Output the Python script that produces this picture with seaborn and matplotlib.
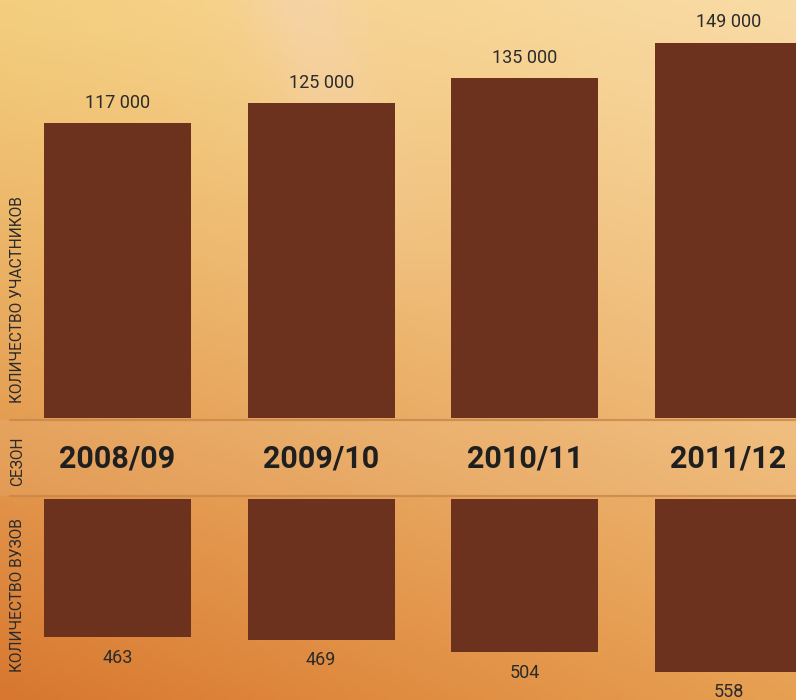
import numpy as np
import matplotlib
matplotlib.use("Agg")
import matplotlib.pyplot as plt
from matplotlib.colors import to_rgb
from matplotlib.lines import Line2D
from matplotlib.patches import Rectangle
from matplotlib.transforms import blended_transform_factory
import seaborn as sns

# Data
seasons = ["2008/09", "2009/10", "2010/11", "2011/12"]
participants = [117000, 125000, 135000, 149000]
universities = [463, 469, 504, 558]

label_participants = "КОЛИЧЕСТВО УЧАСТНИКОВ"
label_season = "СЕЗОН"
label_universities = "КОЛИЧЕСТВО ВУЗОВ"

sns.set_theme(style="white")
plt.rcParams["font.family"] = ["Roboto", "Liberation Sans", "DejaVu Sans"]

BAR = "#6d321d"
TEXT = "#2b2b2b"

W, H = 796, 700
fig = plt.figure(figsize=(W / 100, H / 100), dpi=100)

# Warm gradient backdrop
bg = fig.add_axes([0, 0, 1, 1], zorder=-10)
bg.set_axis_off()
ny, nx = 140, 160
yy, xx = np.mgrid[0:1:ny * 1j, 0:1:nx * 1j]
tl, tr = np.array(to_rgb("#f4ce7e")), np.array(to_rgb("#f9dba6"))
bl, br = np.array(to_rgb("#d8772f")), np.array(to_rgb("#e7a052"))
t = yy[..., None] ** 1.15
xw = xx[..., None]
top = tl * (1 - xw) + tr * xw
bot = bl * (1 - xw) + br * xw
img = top * (1 - t) + bot * t
# soft pinkish sheen across the upper middle
sheen = np.exp(-((xx - 0.38 - 0.25 * yy) / 0.07) ** 2) * np.clip(1 - yy / 0.45, 0, 1)
img = img + sheen[..., None] * (np.array(to_rgb("#f6d3b6")) - img) * 0.55
bg.imshow(np.clip(img, 0, 1), extent=[0, 1, 0, 1], origin="upper", aspect="auto")
bg.set_xlim(0, 1)
bg.set_ylim(0, 1)

# Upper panel: participants
x_lo, x_hi = -117.5 / 203.67, (W - 117.5) / 203.67
base_top = 417.7
ax_top = fig.add_axes([0, 1 - base_top / H, 1, base_top / H])
ax_top.patch.set_alpha(0)
sns.barplot(x=seasons, y=participants, ax=ax_top, color=BAR, saturation=1,
            width=0.722, linewidth=0)
ax_top.set_xlim(x_lo, x_hi)
ax_top.set_ylim(0, base_top / 2.515 * 1000)
ax_top.set_axis_off()
for i, v in enumerate(participants):
    ax_top.annotate(f"{v:,}".replace(",", " "), (i, v), xytext=(0, 14.8),
                    textcoords="offset points", ha="center", va="center",
                    fontsize=13, color=TEXT)

# Lower panel: universities, hanging down
top_low = 499
ax_bot = fig.add_axes([0, 0, 1, (H - top_low) / H])
ax_bot.patch.set_alpha(0)
sns.barplot(x=seasons, y=universities, ax=ax_bot, color=BAR, saturation=1,
            width=0.722, linewidth=0)
ax_bot.set_xlim(x_lo, x_hi)
v0, scale = 83.6, 0.365
ax_bot.set_ylim(v0 + (H - top_low) / scale, v0)
ax_bot.set_axis_off()
for i, v in enumerate(universities):
    ax_bot.annotate(str(v), (i, v), xytext=(0, -14.6),
                    textcoords="offset points", ha="center", va="center",
                    fontsize=13, color=TEXT)

# Season band
fig.add_artist(Rectangle((0, 1 - 496 / H), 1, 76 / H, transform=fig.transFigure,
                         facecolor="white", alpha=0.07, edgecolor="none", zorder=-5))
for yp in (420, 496):
    fig.add_artist(Line2D([10 / W, 1], [1 - yp / H] * 2, transform=fig.transFigure,
                          color="#c9864a", lw=1.6, alpha=0.8))

trans = blended_transform_factory(ax_top.transData, fig.transFigure)
for i, s in enumerate(seasons):
    fig.text(i, 1 - 459 / H, s, transform=trans, ha="center", va="center",
             fontsize=22, fontweight="bold", color="#1f1f1f")

# Row captions
for txt, yp in ((label_participants, 300), (label_season, 461), (label_universities, 595)):
    fig.text(17.5 / W, 1 - yp / H, txt, rotation=90, ha="center", va="center",
             fontsize=11.2, color=TEXT)

fig.savefig("out.png", dpi=100)
